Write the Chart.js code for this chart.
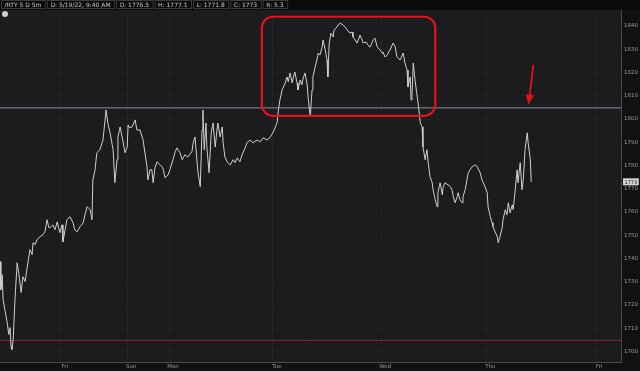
<!DOCTYPE html>
<html>
<head>
<meta charset="utf-8">
<script src="https://cdn.jsdelivr.net/npm/chart.js@4/dist/chart.umd.min.js"></script>
<style>
  html, body { margin: 0; padding: 0; background: #111112; }
  canvas { display: block; }
</style>
</head>
<body>
<canvas id="myChart" width="640" height="371"></canvas>
<script>
// /RTY 5 day, 5m - hours from left edge of chart, and price
const times = [
  0, 0.2, 0.5, 0.7, 1.1, 1.6, 2.0, 2.3, 2.5, 2.7, 3.0, 3.4, 3.9, 4.3, 4.8, 5.2, 5.7, 6.1, 6.8, 7.3,
  7.5, 8.0, 8.4, 9.1, 9.8, 10.2, 10.7, 11.1, 11.4, 12.0, 12.5, 13.0, 13.6, 14.1, 14.3, 14.8, 15.2, 15.9, 16.6, 17.0,
  17.5, 18.2, 18.9, 19.3, 19.8, 20.5, 20.9, 21.1, 21.6, 22.0, 22.7, 23.4, 24.1, 24.5, 25.0, 25.7, 26.1, 26.6, 26.8, 27.3,
  28.0, 28.4, 28.9, 29.1, 29.5, 30.0, 30.7, 31.1, 31.8, 32.5, 33.4, 33.6, 34.1, 34.5, 34.8, 35.2, 35.7, 36.4, 37.0, 37.5,
  38.2, 38.6, 39.3, 39.8, 40.2, 40.9, 41.4, 42.0, 42.7, 43.2, 43.6, 43.9, 44.3, 44.8, 45.0, 45.5, 45.9, 46.1, 46.4, 46.8,
  47.0, 47.5, 48.0, 48.4, 48.9, 49.3, 49.5, 50.0, 50.5, 50.7, 51.1, 51.6, 52.3, 53.0, 53.4, 53.9, 54.5, 55.0, 55.7, 56.1,
  56.8, 57.5, 58.4, 59.1, 59.8, 60.7, 61.4, 62.0, 62.5, 63.0, 63.2, 63.6, 64.1, 64.8, 65.2, 65.5, 65.9, 66.4, 66.6, 67.0,
  67.5, 67.7, 68.2, 68.6, 68.9, 69.3, 69.8, 70.0, 70.5, 70.9, 71.1, 71.6, 72.0, 72.3, 72.7, 73.2, 73.4, 73.9, 74.3, 74.5,
  74.8, 75.2, 75.7, 75.9, 76.6, 76.8, 77.3, 78.0, 78.4, 78.9, 79.5, 80.0, 80.2, 80.7, 81.1, 81.4, 81.8, 82.3, 82.5, 83.2,
  83.6, 84.1, 84.5, 84.8, 85.2, 85.7, 86.4, 86.8, 87.0, 87.5, 88.0, 88.2, 88.6, 89.1, 89.3, 89.8, 90.2, 90.9, 91.4, 91.6,
  92.0, 92.5, 92.7, 93.2, 93.4, 93.6, 93.9, 94.3, 94.8, 95.0, 95.5, 95.9, 96.1, 96.6, 97.0, 97.3, 97.7, 98.2, 98.4, 98.9,
  99.3, 99.5, 100.0, 100.5, 100.7, 101.1, 101.8, 102.3, 102.7, 103.0, 103.4, 103.9, 104.1, 104.5, 105.0, 105.2, 105.7, 106.1, 106.4, 106.8,
  107.3, 108.0, 108.4, 109.1, 109.5, 109.8, 110.2, 110.7, 110.9, 111.4, 111.8, 112.0, 112.5, 113.0, 113.2, 113.6, 114.1, 114.3, 114.8, 115.2,
  115.5, 115.9, 116.4, 116.6, 117.0, 117.5, 117.7, 118.2, 118.6, 118.9, 119.3, 119.8, 120.0, 120.5, 120.7
];
const prices = [
  1738.7, 1726.6, 1733.1, 1722.3, 1718.0, 1712.9, 1707.3, 1710.3, 1702.2, 1700.9, 1705.2, 1722.3, 1738.2, 1733.1, 1725.4, 1732.2, 1730.1, 1735.2, 1743.8, 1741.7,
  1746.8, 1746.0, 1748.1, 1749.4, 1750.3, 1751.5, 1756.7, 1753.3, 1753.3, 1754.5, 1752.4, 1755.8, 1751.1, 1754.5, 1747.2, 1752.4, 1756.7, 1758.0, 1755.4, 1752.4,
  1751.5, 1753.7, 1755.4, 1758.8, 1762.3, 1761.0, 1756.7, 1773.9, 1778.2, 1785.5, 1786.8, 1791.0, 1803.9, 1798.3, 1794.1, 1786.8, 1772.6, 1782.5, 1792.3, 1796.6,
  1789.8, 1785.5, 1788.0, 1797.5, 1796.2, 1796.6, 1799.6, 1795.3, 1795.3, 1791.0, 1779.5, 1773.9, 1778.2, 1778.2, 1772.6, 1779.0, 1781.6, 1780.3, 1779.0, 1774.7,
  1776.0, 1778.2, 1782.5, 1785.9, 1787.6, 1785.5, 1782.5, 1784.6, 1783.7, 1785.0, 1785.9, 1789.8, 1792.3, 1781.2, 1776.9, 1770.9, 1795.3, 1803.9, 1786.8, 1798.3,
  1788.0, 1776.9, 1794.1, 1798.3, 1788.0, 1795.3, 1798.3, 1792.3, 1796.6, 1789.8, 1783.7, 1781.6, 1780.3, 1782.5, 1781.2, 1783.3, 1781.6, 1784.6, 1787.6, 1789.8,
  1791.0, 1789.8, 1791.0, 1790.2, 1791.9, 1791.0, 1792.3, 1794.1, 1796.2, 1798.8, 1803.1, 1808.2, 1812.5, 1815.5, 1818.1, 1816.0, 1819.8, 1815.5, 1817.7, 1820.2,
  1815.5, 1812.5, 1816.8, 1814.7, 1817.7, 1819.8, 1814.7, 1809.5, 1800.9, 1812.5, 1818.1, 1822.4, 1825.4, 1828.4, 1827.5, 1831.0, 1834.0, 1829.7, 1825.4, 1818.1,
  1832.7, 1837.0, 1835.3, 1838.3, 1839.6, 1840.4, 1841.3, 1840.4, 1839.6, 1838.3, 1837.0, 1837.4, 1835.3, 1834.0, 1832.7, 1834.0, 1836.1, 1834.0, 1832.7, 1833.1,
  1831.8, 1831.0, 1832.7, 1834.0, 1834.8, 1831.0, 1829.7, 1828.4, 1828.8, 1826.7, 1827.5, 1828.4, 1829.7, 1831.8, 1832.7, 1831.0, 1826.7, 1825.4, 1827.5, 1828.4,
  1824.1, 1821.1, 1813.8, 1818.1, 1808.2, 1809.5, 1824.1, 1816.8, 1809.5, 1806.9, 1798.3, 1796.6, 1788.0, 1782.5, 1786.8, 1781.2, 1775.2, 1772.6, 1769.6, 1765.3,
  1762.3, 1768.3, 1772.6, 1767.4, 1770.9, 1772.6, 1771.7, 1770.9, 1769.6, 1766.6, 1764.0, 1766.6, 1768.3, 1765.3, 1764.0, 1766.6, 1769.6, 1773.9, 1776.9, 1778.2,
  1779.5, 1780.3, 1779.5, 1776.9, 1773.9, 1772.6, 1770.9, 1768.3, 1762.3, 1758.0, 1755.4, 1753.7, 1751.5, 1749.4, 1746.8, 1749.4, 1753.3, 1756.7, 1761.0, 1758.8,
  1764.0, 1759.7, 1763.1, 1761.0, 1768.3, 1778.2, 1772.6, 1781.2, 1769.6, 1773.9, 1786.8, 1794.1, 1789.8, 1782.5, 1773.0
];

const dayTicks = [13.8, 28.9, 38.4, 62.0, 86.6, 110.5, 135.2];
const dayLabels = ["Fri", "Sun", "Mon", "Tue", "Wed", "Thu", "Fri"];
const priceTicks = [1700, 1710, 1720, 1730, 1740, 1750, 1760, 1770, 1780, 1790, 1800, 1810, 1820, 1830, 1840];

const levelBlue = 1804.8;
const levelRed = 1704.8;
const header = ["/RTY 5 D 5m", "D: 5/19/22, 9:40 AM", "O: 1776.5", "H: 1777.1", "L: 1771.8", "C: 1773", "R: 5.3"];

const xMin = 0, xMax = 141.1;
const yMin = 1695.5, yMax = 1846.9;

// highlight box and arrow, in chart units
const boxT = [59.5, 98.9], boxP = [1801.4, 1844.0];
const arrowFrom = [121.2, 1823.3], arrowTo = [120.1, 1806.1];

const FONT = "'DejaVu Sans', sans-serif";

const chrome = {
  id: "chrome",
  beforeDraw(chart) {
    const c = chart.ctx, a = chart.chartArea;
    c.save();
    c.fillStyle = "#111112";
    c.fillRect(0, 0, chart.width, chart.height);
    c.fillStyle = "#1c1c1e";
    c.fillRect(a.left, a.top, a.right - a.left, a.bottom - a.top);
    c.restore();
  },
  afterDraw(chart) {
    const c = chart.ctx, a = chart.chartArea;
    const xs = chart.scales.x, ys = chart.scales.y;
    c.save();

    // header strip
    c.fillStyle = "#0b0b0c";
    c.fillRect(0, 0, chart.width, a.top);
    c.font = "6px " + FONT;
    c.textBaseline = "middle";
    let x = 1;
    header.forEach((h) => {
      const w = c.measureText(h).width + 7;
      c.strokeStyle = "#3a3a3c";
      c.lineWidth = 1;
      c.strokeRect(x + 0.5, 0.5, w, a.top - 2);
      c.fillStyle = "#c8c8c8";
      c.fillText(h, x + 3.5, a.top / 2);
      x += w + 2;
    });

    // small close icon
    c.beginPath();
    c.arc(5, a.top + 4, 3, 0, Math.PI * 2);
    c.fillStyle = "#d0d0d0";
    c.fill();

    // red highlight box
    const bx1 = xs.getPixelForValue(boxT[0]), bx2 = xs.getPixelForValue(boxT[1]);
    const by1 = ys.getPixelForValue(boxP[1]), by2 = ys.getPixelForValue(boxP[0]);
    c.beginPath();
    c.roundRect(bx1, by1, bx2 - bx1, by2 - by1, 11);
    c.strokeStyle = "#e3131c";
    c.lineWidth = 2.2;
    c.stroke();

    // red arrow
    const ax1 = xs.getPixelForValue(arrowFrom[0]), ay1 = ys.getPixelForValue(arrowFrom[1]);
    const ax2 = xs.getPixelForValue(arrowTo[0]), ay2 = ys.getPixelForValue(arrowTo[1]);
    const ang = Math.atan2(ay2 - ay1, ax2 - ax1);
    c.beginPath();
    c.moveTo(ax1, ay1);
    c.lineTo(ax2 - Math.cos(ang) * 8, ay2 - Math.sin(ang) * 8);
    c.lineWidth = 1.8;
    c.stroke();
    c.beginPath();
    c.moveTo(ax2, ay2);
    c.lineTo(ax2 - Math.cos(ang - 0.38) * 11, ay2 - Math.sin(ang - 0.38) * 11);
    c.lineTo(ax2 - Math.cos(ang + 0.38) * 11, ay2 - Math.sin(ang + 0.38) * 11);
    c.closePath();
    c.fillStyle = "#e3131c";
    c.fill();

    // last price tag
    const last = prices[prices.length - 1];
    const py = ys.getPixelForValue(last);
    c.font = "5px " + FONT;
    const tw = c.measureText(String(last)).width + 3;
    c.fillStyle = "#d6d6d6";
    c.fillRect(a.right + 2, py - 3.5, tw, 7);
    c.fillStyle = "#111";
    c.textAlign = "left";
    c.fillText(String(last), a.right + 3.5, py + 0.5);
    c.restore();
  }
};

const ctx = document.getElementById("myChart").getContext("2d");

const flat = (v) => [{ x: xMin, y: v }, { x: xMax, y: v }];

const myChart = new Chart(ctx, {
  type: "line",
  data: {
    datasets: [
      {
        label: "RTY",
        data: times.map((t, i) => ({ x: t, y: prices[i] })),
        borderColor: "#cfcfcf",
        borderWidth: 1,
        pointRadius: 0,
        tension: 0,
      },
      {
        label: "level",
        data: flat(levelBlue),
        borderColor: "#8fa0ab",
        borderWidth: 0.9,
        pointRadius: 0,
      },
      {
        label: "support",
        data: flat(levelRed),
        borderColor: "#7d2b35",
        borderWidth: 1,
        pointRadius: 0,
      },
    ],
  },
  options: {
    responsive: false,
    animation: false,
    layout: { padding: { top: 10, left: 0, right: 0, bottom: 0 } },
    plugins: {
      legend: { display: false },
      tooltip: { enabled: false },
    },
    scales: {
      x: {
        type: "linear",
        min: xMin,
        max: xMax,
        afterBuildTicks: (s) => { s.ticks = dayTicks.map((v) => ({ value: v })); },
        afterFit: (s) => { s.height = 9; },
        ticks: {
          autoSkip: false,
          maxRotation: 0,
          padding: 1,
          labelOffset: 4,
          color: "#9a9a9a",
          font: { size: 5.5, family: FONT },
          callback: (v, i) => dayLabels[i],
        },
        grid: { color: "rgba(255,255,255,0.03)", drawTicks: false },
        border: { color: "#4a4a4c" },
      },
      y: {
        position: "right",
        min: yMin,
        max: yMax,
        afterBuildTicks: (s) => { s.ticks = priceTicks.map((v) => ({ value: v })); },
        afterFit: (s) => { s.width = 19; },
        ticks: {
          padding: 3,
          color: "#9a9a9a",
          font: { size: 5.5, family: FONT },
          callback: (v) => String(v),
        },
        grid: { color: "rgba(255,255,255,0.025)", drawTicks: false },
        border: { color: "#4a4a4c" },
      },
    },
  },
  plugins: [chrome],
});
</script>
</body>
</html>
